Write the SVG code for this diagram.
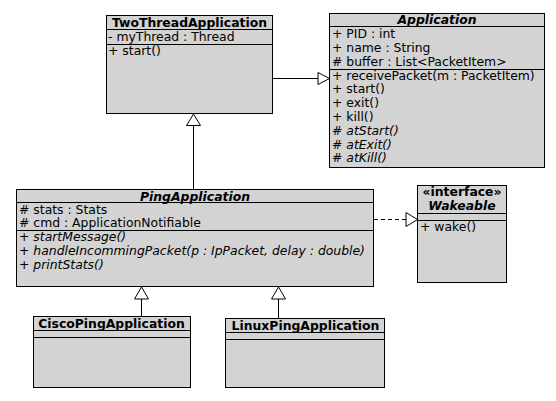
<svg xmlns="http://www.w3.org/2000/svg" width="556" height="401" viewBox="0 0 556 401">
<style>
.box{fill:#d3d3d3;stroke:#000;stroke-width:1}
.sep{stroke:#000;stroke-width:1}
text{font-family:"DejaVu Sans","Liberation Sans",sans-serif;font-size:12.4px;fill:#000}
.t{font-weight:bold;text-anchor:middle}
.ti{font-weight:bold;font-style:italic;text-anchor:middle}
.i{font-style:italic}
.ln{stroke:#000;stroke-width:1;fill:none}
.dash{stroke-dasharray:4 3}
.tri{fill:#fff;stroke:#000;stroke-width:1}
</style>
<rect width="556" height="401" fill="#fff"/>
<g id="connectors">
<line class="ln" x1="273" y1="78.5" x2="318" y2="78.5"/>
<polygon class="tri" points="318,72.5 329.5,78.5 318,84.5"/>
<line class="ln" x1="193.5" y1="189" x2="193.5" y2="125.5"/>
<polygon class="tri" points="193.5,114 186.5,125.5 200.5,125.5"/>
<line class="ln dash" x1="374" y1="219.5" x2="406" y2="219.5"/>
<polygon class="tri" points="406,212.5 417.5,219.5 406,226.5"/>
<line class="ln" x1="141.5" y1="316" x2="141.5" y2="299"/>
<polygon class="tri" points="141.5,287 134.5,299 148.5,299"/>
<line class="ln" x1="278.5" y1="318" x2="278.5" y2="299"/>
<polygon class="tri" points="278.5,287 271.5,299 285.5,299"/>
</g>
<g id="TwoThreadApplication">
<rect class="box" x="106.5" y="15.5" width="166" height="98"/>
<line class="sep" x1="106.5" y1="29.5" x2="272.5" y2="29.5"/>
<line class="sep" x1="106.5" y1="44.5" x2="272.5" y2="44.5"/>
<text class="t" x="189.5" y="26.5">TwoThreadApplication</text>
<text x="108" y="40.5">- myThread : Thread</text>
<text x="108" y="54.5">+ start()</text>
</g>
<g id="Application">
<rect class="box" x="329.5" y="13.5" width="215" height="154"/>
<line class="sep" x1="329.5" y1="26.5" x2="544.5" y2="26.5"/>
<line class="sep" x1="329.5" y1="69.5" x2="544.5" y2="69.5"/>
<text class="ti" x="437" y="24">Application</text>
<text x="332" y="38">+ PID : int</text>
<text x="332" y="51.8">+ name : String</text>
<text x="332" y="65.5"># buffer : List&lt;PacketItem&gt;</text>
<text x="332" y="79.5">+ receivePacket(m : PacketItem)</text>
<text x="332" y="93.3">+ start()</text>
<text x="332" y="107.1">+ exit()</text>
<text x="332" y="120.9">+ kill()</text>
<text x="332" y="134.7"># <tspan class="i">atStart()</tspan></text>
<text x="332" y="148.5"># <tspan class="i">atExit()</tspan></text>
<text x="332" y="162.3"># <tspan class="i">atKill()</tspan></text>
</g>
<g id="PingApplication">
<rect class="box" x="16.5" y="189.5" width="357" height="97"/>
<line class="sep" x1="16.5" y1="202.5" x2="373.5" y2="202.5"/>
<line class="sep" x1="16.5" y1="230.5" x2="373.5" y2="230.5"/>
<text class="ti" x="195" y="200.5">PingApplication</text>
<text x="19" y="213.8"># stats : Stats</text>
<text x="19" y="227.3"># cmd : ApplicationNotifiable</text>
<text x="19" y="241">+ <tspan class="i">startMessage()</tspan></text>
<text x="19" y="254.8">+ <tspan class="i">handleIncommingPacket(p : IpPacket, delay : double)</tspan></text>
<text x="19" y="268.6">+ <tspan class="i">printStats()</tspan></text>
</g>
<g id="Wakeable">
<rect class="box" x="417.5" y="185.5" width="89" height="97"/>
<line class="sep" x1="417.5" y1="213.5" x2="506.5" y2="213.5"/>
<line class="sep" x1="417.5" y1="220.5" x2="506.5" y2="220.5"/>
<text class="t" x="462" y="195.5">«interface»</text>
<text class="ti" x="462" y="209.5">Wakeable</text>
<text x="420" y="230.5">+ wake()</text>
</g>
<g id="CiscoPingApplication">
<rect class="box" x="33.5" y="316.5" width="157" height="71"/>
<line class="sep" x1="33.5" y1="330.5" x2="190.5" y2="330.5"/>
<line class="sep" x1="33.5" y1="337.5" x2="190.5" y2="337.5"/>
<text class="t" x="111.5" y="328">CiscoPingApplication</text>
</g>
<g id="LinuxPingApplication">
<rect class="box" x="225.5" y="318.5" width="159" height="69"/>
<line class="sep" x1="225.5" y1="332.5" x2="384.5" y2="332.5"/>
<line class="sep" x1="225.5" y1="339.5" x2="384.5" y2="339.5"/>
<text class="t" x="305.5" y="330">LinuxPingApplication</text>
</g>
</svg>
